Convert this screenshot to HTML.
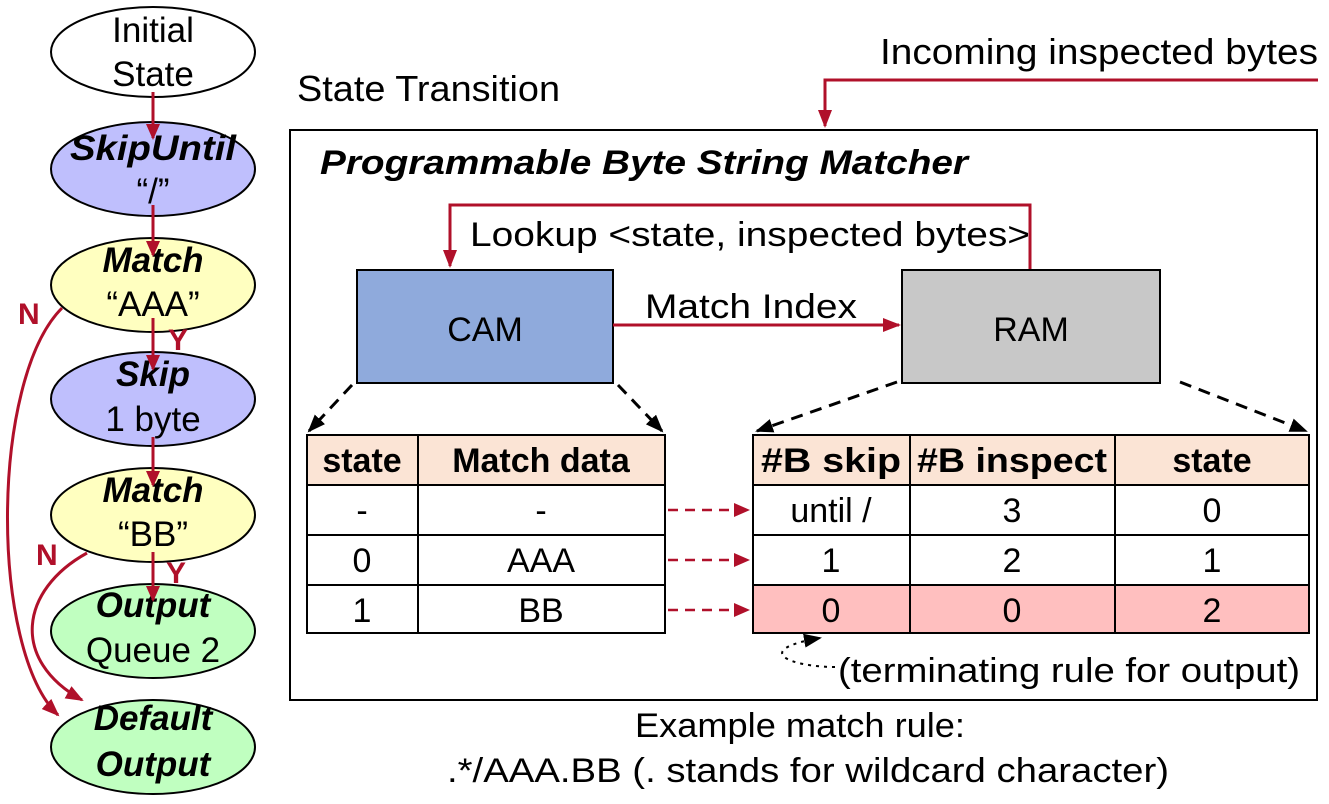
<!DOCTYPE html>
<html><head><meta charset="utf-8"><style>
body{margin:0;background:#fff}
svg text{font-family:"Liberation Sans",sans-serif}
</style></head><body>
<svg width="1329" height="799" viewBox="0 0 1329 799" xmlns="http://www.w3.org/2000/svg">
<defs>
<marker id="ar" markerWidth="16" markerHeight="14" refX="14" refY="7" orient="auto" markerUnits="userSpaceOnUse"><path d="M0,0 L16,7 L0,14 z" fill="#b0102a"/></marker>
<marker id="ar2" markerWidth="18" markerHeight="14" refX="16" refY="7" orient="auto" markerUnits="userSpaceOnUse"><path d="M0,0 L18,7 L0,14 z" fill="#b0102a"/></marker>
<marker id="ab" markerWidth="18" markerHeight="14" refX="16" refY="7" orient="auto" markerUnits="userSpaceOnUse"><path d="M0,0 L18,7 L0,14 z" fill="#000"/></marker>
</defs>
<g stroke="#000" stroke-width="2">
<ellipse cx="153" cy="52" rx="102" ry="45" fill="#fff"/>
<ellipse cx="153" cy="169" rx="102" ry="47" fill="#bfbffd"/>
<ellipse cx="153" cy="285" rx="102" ry="47" fill="#ffffc0"/>
<ellipse cx="153" cy="399" rx="102" ry="47" fill="#bfbffd"/>
<ellipse cx="153" cy="515" rx="102" ry="47" fill="#ffffc0"/>
<ellipse cx="153" cy="631" rx="102" ry="47" fill="#c0ffc0"/>
<ellipse cx="153" cy="747" rx="102" ry="47" fill="#c0ffc0"/>
</g>
<g font-size="35" text-anchor="middle">
<text x="153" y="42">Initial</text><text x="153" y="86">State</text>
<g font-weight="bold" font-style="italic">
<text x="153" y="160" textLength="166" lengthAdjust="spacingAndGlyphs">SkipUntil</text>
<text x="153" y="272">Match</text>
<text x="153" y="386">Skip</text>
<text x="153" y="502">Match</text>
<text x="153" y="617">Output</text>
<text x="153" y="730">Default</text>
<text x="153" y="776">Output</text>
</g>
<text x="153" y="203">“/”</text>
<text x="153" y="316">“AAA”</text>
<text x="153" y="431">1 byte</text>
<text x="153" y="546">“BB”</text>
<text x="153" y="662">Queue 2</text>
</g>
<g stroke="#b0102a" stroke-width="3" fill="none">
<line x1="153" y1="92" x2="153" y2="138" marker-end="url(#ar)"/>
<line x1="153" y1="205" x2="153" y2="255" marker-end="url(#ar)"/>
<line x1="153" y1="318" x2="153" y2="369" marker-end="url(#ar)"/>
<line x1="153" y1="437" x2="153" y2="485" marker-end="url(#ar)"/>
<line x1="153" y1="552" x2="153" y2="600" marker-end="url(#ar)"/>
<path d="M62,308 C-10,380 -10,650 58,715" marker-end="url(#ar2)"/>
<path d="M87,553 C20,590 10,660 82,700" marker-end="url(#ar2)"/>
</g>
<g fill="#b0102a" font-size="30" font-weight="bold">
<text x="18" y="324">N</text><text x="168" y="350">Y</text>
<text x="36" y="565">N</text><text x="166" y="583">Y</text>
</g>
<text x="297" y="101" font-size="36" textLength="263" lengthAdjust="spacingAndGlyphs">State Transition</text>
<text x="880" y="64" font-size="36" textLength="438" lengthAdjust="spacingAndGlyphs">Incoming inspected bytes</text>
<path d="M1318,80 L825,80 L825,126" stroke="#b0102a" stroke-width="3" fill="none" marker-end="url(#ar2)"/>
<rect x="290" y="130" width="1027" height="570" fill="none" stroke="#000" stroke-width="2"/>
<text x="320" y="174" font-size="34" font-weight="bold" font-style="italic" textLength="648" lengthAdjust="spacingAndGlyphs">Programmable Byte String Matcher</text>
<path d="M1030,270 L1030,205 L450,205 L450,266" stroke="#b0102a" stroke-width="3" fill="none" marker-end="url(#ar2)"/>
<text x="470" y="246" font-size="34" textLength="560" lengthAdjust="spacingAndGlyphs">Lookup &lt;state, inspected bytes&gt;</text>
<rect x="357" y="270" width="256" height="113" fill="#8faadc" stroke="#000" stroke-width="2"/>
<rect x="902" y="270" width="258" height="113" fill="#c8c8c8" stroke="#000" stroke-width="2"/>
<text x="485" y="341" font-size="34" text-anchor="middle">CAM</text>
<text x="1031" y="341" font-size="34" text-anchor="middle">RAM</text>
<line x1="613" y1="325" x2="899" y2="325" stroke="#b0102a" stroke-width="3" marker-end="url(#ar2)"/>
<text x="645" y="318" font-size="34" textLength="212" lengthAdjust="spacingAndGlyphs">Match Index</text>
<g stroke="#000" stroke-width="3" stroke-dasharray="12,8" fill="none">
<line x1="352" y1="385" x2="309" y2="431" marker-end="url(#ab)"/>
<line x1="618" y1="385" x2="662" y2="431" marker-end="url(#ab)"/>
<line x1="897" y1="382" x2="757" y2="431" marker-end="url(#ab)"/>
<line x1="1180" y1="382" x2="1306" y2="431" marker-end="url(#ab)"/>
</g>
<rect x="307" y="435" width="358" height="50" fill="#fbe4d5"/>
<rect x="753" y="435" width="556" height="50" fill="#fbe4d5"/>
<rect x="753" y="585" width="556" height="48" fill="#ffbfbf"/>
<g stroke="#000" stroke-width="2" fill="none">
<rect x="307" y="435" width="358" height="198"/>
<line x1="307" y1="485" x2="665" y2="485"/><line x1="307" y1="535" x2="665" y2="535"/><line x1="307" y1="585" x2="665" y2="585"/>
<line x1="418" y1="435" x2="418" y2="633"/>
<rect x="753" y="435" width="556" height="198"/>
<line x1="753" y1="485" x2="1309" y2="485"/><line x1="753" y1="535" x2="1309" y2="535"/><line x1="753" y1="585" x2="1309" y2="585"/>
<line x1="910" y1="435" x2="910" y2="633"/><line x1="1115" y1="435" x2="1115" y2="633"/>
</g>
<g font-size="34" text-anchor="middle">
<g font-weight="bold"><text x="362" y="472">state</text><text x="541" y="472">Match data</text>
<text x="831" y="472" textLength="140" lengthAdjust="spacingAndGlyphs">#B skip</text><text x="1012" y="472" textLength="190" lengthAdjust="spacingAndGlyphs">#B inspect</text><text x="1212" y="472">state</text></g>
<text x="362" y="522">-</text><text x="541" y="522">-</text>
<text x="362" y="572">0</text><text x="541" y="572">AAA</text>
<text x="362" y="622">1</text><text x="541" y="622">BB</text>
<text x="831" y="522">until /</text><text x="1012" y="522">3</text><text x="1212" y="522">0</text>
<text x="831" y="572">1</text><text x="1012" y="572">2</text><text x="1212" y="572">1</text>
<text x="831" y="622">0</text><text x="1012" y="622">0</text><text x="1212" y="622">2</text>
</g>
<g stroke="#b0102a" stroke-width="2.5" stroke-dasharray="10,7">
<line x1="668" y1="510" x2="748" y2="510" marker-end="url(#ar)"/>
<line x1="668" y1="560" x2="748" y2="560" marker-end="url(#ar)"/>
<line x1="668" y1="610" x2="748" y2="610" marker-end="url(#ar)"/>
</g>
<path d="M835,667 C790,667 750,650 820,638" stroke="#000" stroke-width="2" stroke-dasharray="3,5" fill="none" marker-end="url(#ab)"/>
<text x="838" y="682" font-size="34" textLength="462" lengthAdjust="spacingAndGlyphs">(terminating rule for output)</text>
<text x="635" y="737" font-size="34" textLength="330" lengthAdjust="spacingAndGlyphs">Example match rule:</text>
<text x="808" y="782" font-size="34" text-anchor="middle" textLength="722" lengthAdjust="spacingAndGlyphs">.*/AAA.BB (. stands for wildcard character)</text>
</svg>
</body></html>
